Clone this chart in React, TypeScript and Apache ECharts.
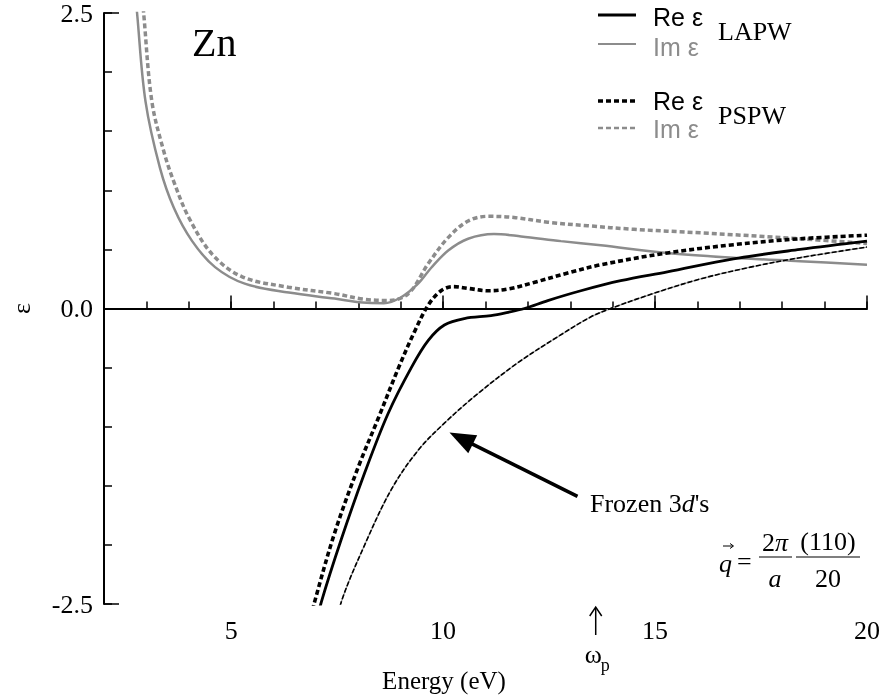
import React, { useEffect, useRef } from "react";
import * as echarts from "echarts";

// Energy (eV), epsilon
const reLAPW: [number, number][] = [
  [6.95, -2.75], [7.13, -2.48], [7.6, -1.95], [8.15, -1.39], [8.7, -0.89], [9.25, -0.5],
  [9.65, -0.27], [10.03, -0.14], [10.5, -0.085], [11.13, -0.06], [11.5, -0.035], [11.92, 0.0],
  [12.47, 0.067], [13.25, 0.15], [14.19, 0.235], [15.29, 0.31], [16.85, 0.42], [18.42, 0.5], [20, 0.57],
];
const imLAPW: [number, number][] = [
  [2.72, 2.75], [2.78, 2.5], [2.98, 1.75], [3.32, 1.19], [3.65, 0.85], [4.08, 0.57], [4.62, 0.35],
  [5.32, 0.21], [6.36, 0.135], [7.44, 0.084], [8.1, 0.05], [8.6, 0.045], [9.0, 0.093], [9.41, 0.21],
  [9.72, 0.345], [10.12, 0.49], [10.59, 0.59], [11.2, 0.63], [11.84, 0.61], [12.78, 0.57],
  [13.72, 0.535], [15.29, 0.47], [16.85, 0.43], [18.42, 0.4], [20, 0.37],
];
const rePSPW: [number, number][] = [
  [6.78, -2.75], [6.97, -2.48], [7.44, -1.9], [8.0, -1.34], [8.48, -0.92], [8.95, -0.5], [9.32, -0.2],
  [9.65, 0.03], [9.95, 0.15], [10.24, 0.185], [10.59, 0.17], [11.06, 0.15], [11.53, 0.165],
  [12.14, 0.22], [12.94, 0.3], [13.72, 0.37], [15.29, 0.47], [16.85, 0.54], [18.42, 0.59], [20, 0.62],
];
const imPSPW: [number, number][] = [
  [2.88, 2.75], [2.94, 2.48], [3.13, 1.75], [3.41, 1.33], [3.64, 1.08], [4.0, 0.77], [4.55, 0.46],
  [5.25, 0.27], [6.35, 0.18], [7.44, 0.126], [8.1, 0.08], [8.7, 0.068], [9.18, 0.126], [9.65, 0.38],
  [10.12, 0.6], [10.59, 0.74], [11.06, 0.78], [11.67, 0.77], [12.47, 0.73], [13.41, 0.7],
  [14.5, 0.67], [16.07, 0.64], [18.42, 0.59], [20, 0.55],
];
const frozen3d: [number, number][] = [
  [7.45, -2.75], [7.6, -2.48], [8.15, -2.0], [8.78, -1.53], [9.41, -1.2], [10.03, -0.97],
  [10.82, -0.72], [11.76, -0.46], [12.7, -0.24], [13.49, -0.07], [13.95, 0.0], [14.9, 0.12],
  [16.07, 0.25], [17.25, 0.35], [18.42, 0.43], [20, 0.52],
];

const xMajorTicks = [5, 10, 15, 20];
const yMajorTicks = [-2.5, 0, 2.5];
const yTickLabels = ["-2.5", "0.0", "2.5"];
const omegaP = 13.6;
const frozenArrowTip: [number, number] = [10.15, -1.05];
const frozenArrowTail: [number, number] = [13.17, -1.59];

const SERIF = "Liberation Serif";
const SANS = "Liberation Sans";
const GRAY = "#8c8c8c";

export default function App() {
  const ref = useRef<HTMLDivElement>(null);
  useEffect(() => {
    const chart = echarts.init(ref.current!, null, { renderer: "svg" });
    const lineSeries = (name: string, data: [number, number][], style: any, z = 2) => ({
      name,
      type: "line",
      data,
      showSymbol: false,
      smooth: 0.35,
      clip: true,
      z,
      lineStyle: style,
    });
    chart.setOption({
      animation: false,
      grid: { left: 102, right: 16, top: 11, bottom: 94 },
      xAxis: [
        {
          type: "value",
          min: 2,
          max: 20,
          interval: 1,
          axisLine: { lineStyle: { color: "#000", width: 2 } },
          axisTick: { inside: true, length: 7, lineStyle: { color: "#000", width: 1.5 } },
          axisLabel: {
            formatter: (v: number) => (xMajorTicks.includes(Math.round(v)) && Math.abs(v - Math.round(v)) < 1e-6 ? String(Math.round(v)) : ""),
            fontFamily: SERIF,
            fontSize: 26,
            color: "#000",
            margin: 13,
          },
          splitLine: { show: false },
        },
        {
          type: "value",
          min: 2,
          max: 20,
          position: "bottom",
          axisLine: { show: false },
          axisTick: { inside: true, length: 13, customValues: xMajorTicks, lineStyle: { color: "#000", width: 1.5 } },
          axisLabel: { show: false },
          splitLine: { show: false },
        },
      ],
      yAxis: [
        {
          type: "value",
          min: -2.5,
          max: 2.5,
          interval: 0.5,
          name: "ε",
          nameLocation: "middle",
          nameGap: 70,
          nameRotate: 90,
          nameTextStyle: { fontFamily: SERIF, fontSize: 26, color: "#000" },
          axisLine: { lineStyle: { color: "#000", width: 2 } },
          axisTick: { inside: true, length: 8, lineStyle: { color: "#000", width: 1.5 } },
          axisLabel: {
            formatter: (v: number) => {
              const i = yMajorTicks.findIndex((t) => Math.abs(t - v) < 1e-6);
              return i >= 0 ? yTickLabels[i] : "";
            },
            fontFamily: SERIF,
            fontSize: 26,
            color: "#000",
            margin: 11,
          },
          splitLine: { show: false },
        },
        {
          type: "value",
          min: -2.5,
          max: 2.5,
          position: "left",
          axisLine: { show: false },
          axisTick: { inside: true, length: 15, customValues: yMajorTicks, lineStyle: { color: "#000", width: 1.5 } },
          axisLabel: { show: false },
          splitLine: { show: false },
        },
      ],
      series: [
        {
          ...lineSeries("Im ε LAPW", imLAPW, { color: GRAY, width: 2.5 }),
          markLine: {
            silent: true,
            symbol: "none",
            label: { show: false },
            lineStyle: { color: "#000", width: 1, type: "solid" },
            data: [{ yAxis: 0 }],
          },
        },
        lineSeries("Im ε PSPW", imPSPW, { color: GRAY, width: 3.5, type: [5, 3], cap: "butt" }, 3),
        lineSeries("Frozen 3d's gray", frozen3d, { color: "#9a9a9a", width: 1.2 }, 3),
        lineSeries("Frozen 3d's", frozen3d, { color: "#000", width: 1.6, type: [5, 2], cap: "butt" }, 4),
        lineSeries("Re ε LAPW", reLAPW, { color: "#000", width: 2.8 }, 5),
        lineSeries("Re ε PSPW", rePSPW, { color: "#000", width: 3.6, type: [5, 3], cap: "butt" }, 5),
      ],
    });

    const px = (p: [number, number]) => chart.convertToPixel({ gridIndex: 0 }, p) as number[];
    const tip = px(frozenArrowTip);
    const tail = px(frozenArrowTail);
    const dx = tip[0] - tail[0];
    const dy = tip[1] - tail[1];
    const len = Math.hypot(dx, dy);
    const ux = dx / len;
    const uy = dy / len;
    const headLen = 26;
    const headHalf = 10;
    const bx = tip[0] - ux * headLen;
    const by = tip[1] - uy * headLen;
    const wp = px([omegaP, -2.5]);
    const axisY = wp[1];

    const txt = (text: string, x: number, y: number, extra: any = {}) => ({
      type: "text",
      x,
      y,
      style: {
        text,
        fontFamily: SERIF,
        fontSize: 26,
        fill: "#000",
        align: "left",
        verticalAlign: "middle",
        ...extra,
      },
    });
    const seg = (x1: number, y1: number, x2: number, y2: number, style: any) => ({
      type: "line",
      shape: { x1, y1, x2, y2 },
      style: { stroke: "#000", lineWidth: 1.5, ...style },
    });

    chart.setOption({
      graphic: [
        txt("Zn", 192, 42, { fontSize: 40 }),
        // legend
        seg(598, 15, 636, 15, { lineWidth: 3 }),
        txt("Re ε", 653, 17, { fontFamily: SANS, fontSize: 25 }),
        txt("LAPW", 718, 31, { fontSize: 26 }),
        seg(598, 44, 636, 44, { stroke: GRAY, lineWidth: 2 }),
        txt("Im ε", 653, 47, { fontFamily: SANS, fontSize: 25, fill: GRAY }),
        seg(598, 101, 636, 101, { lineWidth: 3.5, lineDash: [5, 3] }),
        txt("Re ε", 653, 101, { fontFamily: SANS, fontSize: 25 }),
        txt("PSPW", 718, 115, { fontSize: 26 }),
        seg(598, 128, 636, 128, { stroke: GRAY, lineWidth: 2.5, lineDash: [5, 3] }),
        txt("Im ε", 653, 129, { fontFamily: SANS, fontSize: 25, fill: GRAY }),
        // frozen arrow
        seg(tail[0], tail[1], bx + ux * 2, by + uy * 2, { lineWidth: 3.5 }),
        {
          type: "polygon",
          shape: {
            points: [
              [tip[0], tip[1]],
              [bx - uy * headHalf, by + ux * headHalf],
              [bx + uy * headHalf, by - ux * headHalf],
            ],
          },
          style: { fill: "#000" },
        },
        {
          type: "text",
          x: 590,
          y: 503,
          style: {
            text: "{n|Frozen 3}{i|d}{n|'s}",
            verticalAlign: "middle",
            rich: {
              n: { fontFamily: SERIF, fontSize: 26, fill: "#000" },
              i: { fontFamily: SERIF, fontSize: 26, fontStyle: "italic", fill: "#000" },
            },
          },
        },
        // omega_p marker
        seg(wp[0], axisY + 4, wp[0], axisY + 31, { lineWidth: 1.5 }),
        {
          type: "polyline",
          shape: { points: [[wp[0] - 6, axisY + 12], [wp[0], axisY + 3], [wp[0] + 6, axisY + 12]] },
          style: { stroke: "#000", lineWidth: 1.5, fill: null },
        },
        txt("ω", wp[0] - 11, 654, { fontSize: 26 }),
        txt("p", wp[0] + 5, 665, { fontSize: 18 }),
        txt("Energy (eV)", 444, 680, { align: "center", fontSize: 25 }),
        // formula q = 2π/a (110)/20
        txt("q", 719, 563, { fontStyle: "italic" }),
        seg(723, 546, 733, 546, { lineWidth: 1 }),
        {
          type: "polyline",
          shape: { points: [[730, 543.5], [733.5, 546], [730, 548.5]] },
          style: { stroke: "#000", lineWidth: 1, fill: null },
        },
        txt("=", 737, 561),
        {
          type: "text",
          x: 775,
          y: 542,
          style: {
            text: "{n|2}{i|π}",
            align: "center",
            verticalAlign: "middle",
            rich: {
              n: { fontFamily: SERIF, fontSize: 26, fill: "#000" },
              i: { fontFamily: SERIF, fontSize: 26, fontStyle: "italic", fill: "#000" },
            },
          },
        },
        seg(759, 557, 792, 557, { lineWidth: 1.2 }),
        txt("a", 775, 578, { align: "center", fontStyle: "italic" }),
        txt("(110)", 828, 541, { align: "center" }),
        seg(796, 557, 860, 557, { lineWidth: 1.2 }),
        txt("20", 828, 578, { align: "center" }),
      ],
    });
    return () => chart.dispose();
  }, []);
  return <div ref={ref} style={{ position: "fixed", left: 0, top: 0, width: 883, height: 698 }} />;
}
